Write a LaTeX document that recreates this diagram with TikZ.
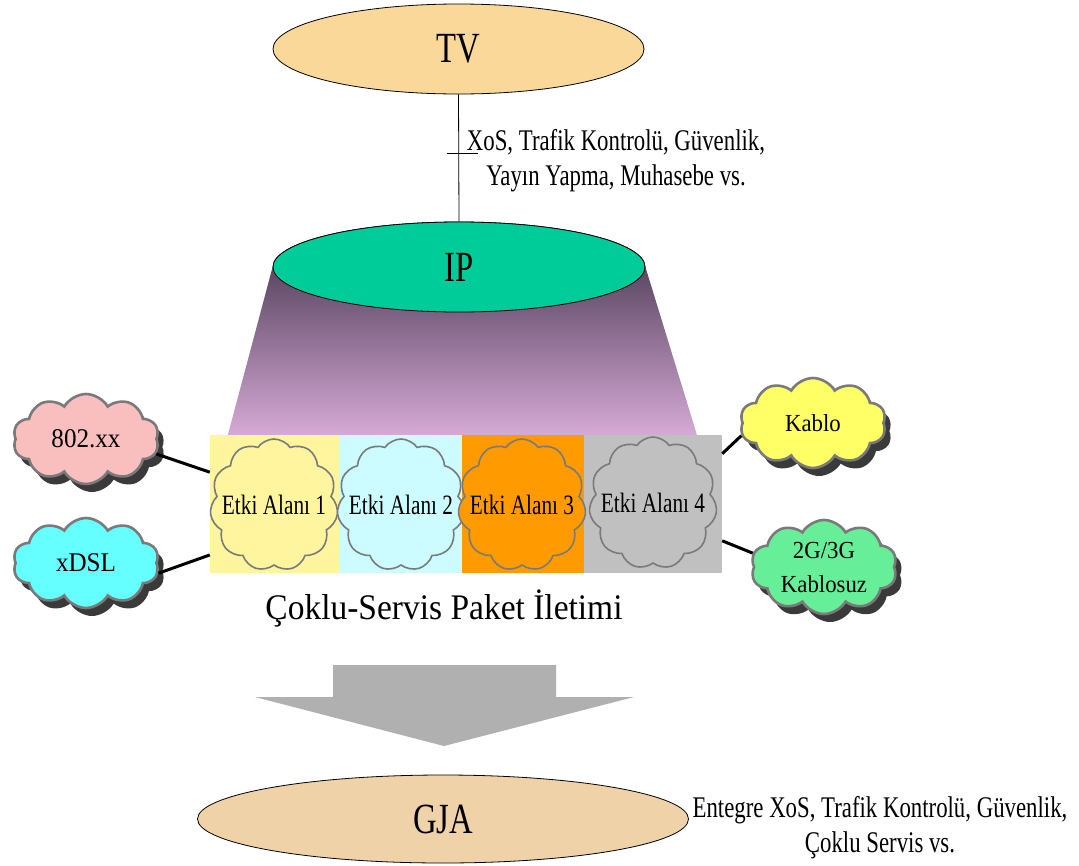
\documentclass[tikz,border=0pt]{standalone}
\usepackage{fontspec}
\usepackage{graphicx}
\setmainfont{Liberation Serif}
% condensed faces of the serif used for the labels
\newfontfamily\narrowserif[FakeStretch=0.76]{Liberation Serif}
\newfontfamily\midserif[FakeStretch=0.93]{Liberation Serif}
\usetikzlibrary{shapes.symbols,shapes.geometric,shadows}

\definecolor{tvfill}{HTML}{F9D89A}
\definecolor{ipfill}{HTML}{00CC99}
\definecolor{gjafill}{HTML}{EFD2A8}
\definecolor{ipdark}{HTML}{5B4763}
\definecolor{iplight}{HTML}{D9ADD9}
\definecolor{domA}{HTML}{FFF59F}
\definecolor{domB}{HTML}{CCFCFF}
\definecolor{domC}{HTML}{FF9B00}
\definecolor{domD}{HTML}{C0C0C0}
\definecolor{pinkcloud}{HTML}{F9BFBF}
\definecolor{cyancloud}{HTML}{66FFFF}
\definecolor{yellowcloud}{HTML}{FFFF66}
\definecolor{greencloud}{HTML}{66EE99}
\definecolor{cloudline}{HTML}{7A7A7A}
\definecolor{cloudshadow}{HTML}{3A3A3A}
\definecolor{arrowgray}{HTML}{B0B0B0}

\begin{document}
\begin{tikzpicture}[x=1pt,y=-1pt,
  layer/.style={ellipse, draw=black, line width=0.8pt, inner sep=0pt},
  bigtext/.style={font=\narrowserif\fontsize{43}{50}\selectfont},
  note/.style={font=\narrowserif\fontsize{30}{35}\selectfont, align=center},
  domainbox/.style={rectangle, inner sep=0pt, minimum width=#1, minimum height=138pt},
  domaincloud/.style={cloud, cloud puffs=11, cloud puff arc=110, aspect=0.95,
    draw=cloudline, line width=1.6pt, inner sep=0pt,
    minimum width=128pt, minimum height=132pt},
  domaintext/.style={font=\narrowserif\fontsize{28}{32}\selectfont},
  access/.style={cloud, cloud puffs=10, cloud puff arc=120, aspect=1.6,
    draw=cloudline, line width=2.6pt, inner sep=0pt, align=center,
    minimum width=146pt, minimum height=90pt,
    font=\midserif\fontsize{27}{34}\selectfont,
    drop shadow={shadow xshift=6pt, shadow yshift=-8pt, opacity=1, fill=cloudshadow}},
  smallaccess/.style={access, font=\midserif\fontsize{24.5}{34}\selectfont},
  link/.style={line width=3pt, black}
]
\useasboundingbox (0,0) rectangle (1079,865);

% top layers
\node[layer, fill=tvfill, minimum width=371pt, minimum height=90pt, bigtext] (tv) at (458.5,49) {TV};

\node[layer, fill=ipfill, minimum width=372pt, minimum height=90pt] (ip) at (459,267) {};
% funnel under the IP layer
\shade[top color=ipdark, bottom color=iplight] (ip.west) -- (ip.east) -- (698.5,440) -- (226.5,440) -- cycle;
\node[layer, fill=ipfill, minimum width=372pt, minimum height=90pt, bigtext] (ip) at (459,267) {IP};

\draw[line width=0.8pt] (tv.south) -- (ip.north);
\coordinate (tickL) at (447,153);
\coordinate (tickR) at (478,153);
\draw[line width=0.8pt] (tickL) -- (tickR);
\node[note] (tvnote) at (616,161) {XoS, Trafik Kontrolü, Güvenlik,\\Yayın Yapma, Muhasebe vs.};

% administrative domains
\node[domainbox=130pt, fill=domA] (b1) at (275,504) {};
\node[domainbox=122pt, fill=domB] (b2) at (401,504) {};
\node[domainbox=122pt, fill=domC] (b3) at (523,504) {};
\node[domainbox=138pt, fill=domD] (b4) at (653,504) {};

\node[domaincloud, fill=domA] (c1) at (274,505) {};
\node[domaincloud, fill=domB] (c2) at (401,505) {};
\node[domaincloud, fill=domC] (c3) at (522,505) {};
\node[domaincloud, fill=domD] (c4) at (653,503) {};

\node[domaintext] at (c1) {Etki Alanı 1};
\node[domaintext] at (c2) {Etki Alanı 2};
\node[domaintext] at (c3) {Etki Alanı 3};
\node[domaintext] at (c4) {Etki Alanı 4};

% access networks
\node[access, fill=pinkcloud] (n802) at (86,439) {802.xx};
\node[access, fill=cyancloud] (ndsl) at (86,563) {xDSL};
\node[smallaccess, fill=yellowcloud] (ncab) at (813,423) {Kablo};
\node[smallaccess, fill=greencloud] (nmob) at (824,567) {2G/3G\\Kablosuz};

\draw[link] (n802.-12) -- (b1.154);
\draw[link] (ndsl.-8) -- (b1.218);
\draw[link] (b4.36) -- (ncab.190);
\draw[link] (b4.-28.5) -- (nmob.169);

\node[font=\midserif\fontsize{36}{40}\selectfont] (multi) at (444,608) {Çoklu-Servis Paket İletimi};

% big downward arrow
\fill[arrowgray] (333,665) -- (556,665) -- (556,697) -- (634,697) -- (444,746)
  -- (255,697) -- (333,697) -- cycle;

% bottom layer
\node[layer, fill=gjafill, minimum width=491pt, minimum height=88pt, bigtext] (gja) at (443,819) {GJA};
\node[note] (gjanote) at (880,828) {Entegre XoS, Trafik Kontrolü, Güvenlik,\\Çoklu Servis vs.};
\end{tikzpicture}
\end{document}
